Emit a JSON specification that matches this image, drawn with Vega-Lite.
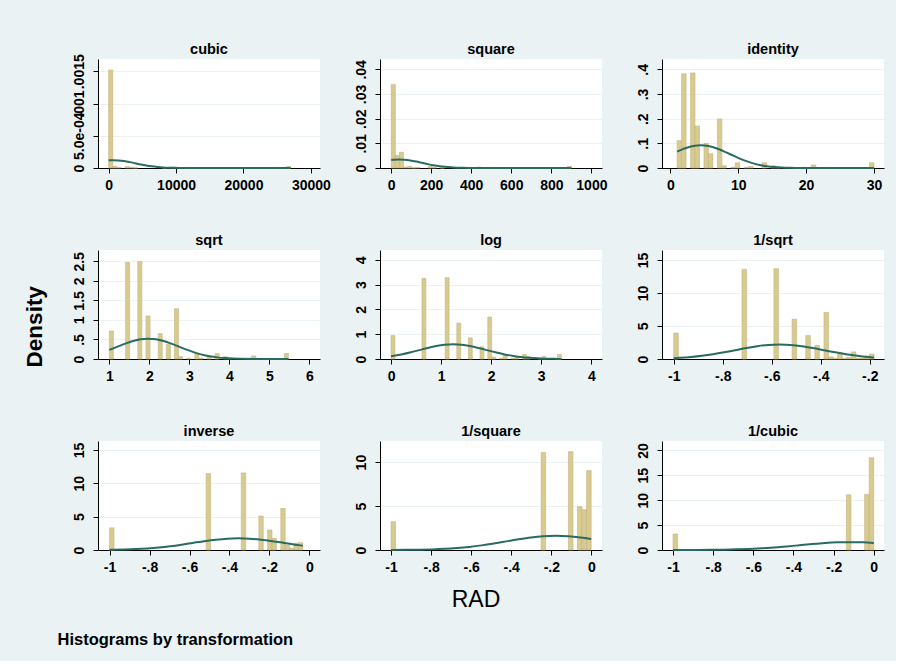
{
  "$schema": "https://vega.github.io/schema/vega-lite/v6.json",
  "background": "#eaf2f3",
  "padding": {"left": 23, "top": 41, "right": 12, "bottom": 12},
  "config": {
    "font": "Liberation Sans",
    "view": {"stroke": null, "fill": "white"},
    "axis": {
      "domainColor": "#000000", "domainWidth": 1, "tickColor": "#000000", "tickSize": 5, "tickWidth": 1,
      "labelFont": "Liberation Sans", "labelFontSize": 14, "labelFontWeight": "bold", "labelColor": "#000000",
      "labelOverlap": false, "labelFlush": false, "labelBound": false, "grid": false, "title": null
    },
    "axisX": {"labelPadding": 5},
    "axisY": {"grid": true, "gridColor": "#eaf2f3", "gridWidth": 1.2, "labelAngle": 270, "labelAlign": "center", "labelBaseline": "bottom", "labelPadding": 7},
    "title": {"font": "Liberation Sans", "fontSize": 14.5, "fontWeight": "bold", "color": "#000000", "offset": 2, "frame": "group"}
  },
  "datasets": {
    "cubic_bars": [
      {"x": 1, "x_end": 614.6, "y": 0.001519},
      {"x": 614.6, "x_end": 1228.2, "y": 0.0000261},
      {"x": 1228.2, "x_end": 1841.8, "y": 0.0000098},
      {"x": 2455.4, "x_end": 3069.1, "y": 0.0000228},
      {"x": 3069.1, "x_end": 3682.7, "y": 0.0000098},
      {"x": 3682.7, "x_end": 4296.3, "y": 0.0000033},
      {"x": 7977.9, "x_end": 8591.5, "y": 0.0000033},
      {"x": 9205.2, "x_end": 9818.8, "y": 0.000013},
      {"x": 26386.2, "x_end": 27000, "y": 0.0000228}
    ],
    "cubic_curve": [
      {"x": 1, "y": 0.0001188}, {"x": 640.6, "y": 0.000121}, {"x": 1465, "y": 0.0001173}, {"x": 2289, "y": 0.0001068},
      {"x": 3113, "y": 0.0000913}, {"x": 3937, "y": 0.0000734}, {"x": 4761, "y": 0.0000554}, {"x": 5586, "y": 0.0000393},
      {"x": 6410, "y": 0.0000262}, {"x": 7234, "y": 0.0000164}, {"x": 8058, "y": 0.0000096}, {"x": 8882, "y": 0.0000053},
      {"x": 9706, "y": 0.0000028}, {"x": 10531, "y": 0.0000013}, {"x": 12179, "y": 0.0000003}, {"x": 13827, "y": 0.00000004},
      {"x": 17124, "y": 0}, {"x": 27000, "y": 0}
    ],
    "square_bars": [
      {"x": 1, "x_end": 21.43, "y": 0.03382},
      {"x": 21.43, "x_end": 41.86, "y": 0.00509},
      {"x": 41.86, "x_end": 62.3, "y": 0.00641},
      {"x": 62.3, "x_end": 82.73, "y": 0.000392},
      {"x": 82.73, "x_end": 103.16, "y": 0.000685},
      {"x": 103.16, "x_end": 123.59, "y": 0.0000979},
      {"x": 123.59, "x_end": 144.02, "y": 0.000196},
      {"x": 184.89, "x_end": 205.32, "y": 0.000685},
      {"x": 205.32, "x_end": 225.75, "y": 0.000294},
      {"x": 246.18, "x_end": 266.61, "y": 0.0000979},
      {"x": 389.21, "x_end": 409.64, "y": 0.0000979},
      {"x": 430.07, "x_end": 450.5, "y": 0.000392},
      {"x": 879.57, "x_end": 900, "y": 0.000685}
    ],
    "square_curve": [
      {"x": 1, "y": 0.003264}, {"x": 9.93, "y": 0.003337}, {"x": 38.89, "y": 0.003443}, {"x": 67.86, "y": 0.003337},
      {"x": 96.82, "y": 0.003038}, {"x": 125.79, "y": 0.002599}, {"x": 154.75, "y": 0.002088}, {"x": 183.72, "y": 0.001576},
      {"x": 212.68, "y": 0.001118}, {"x": 241.65, "y": 0.000745}, {"x": 270.61, "y": 0.000466}, {"x": 299.6, "y": 0.000274},
      {"x": 328.54, "y": 0.000151}, {"x": 357.5, "y": 0.0000785}, {"x": 386.47, "y": 0.0000383}, {"x": 444.4, "y": 0.0000075},
      {"x": 502.3, "y": 0.0000012}, {"x": 618.2, "y": 0}, {"x": 900, "y": 0}
    ],
    "identity_bars": [
      {"x": 1, "x_end": 1.659, "y": 0.1108},
      {"x": 1.659, "x_end": 2.318, "y": 0.3823},
      {"x": 2.977, "x_end": 3.636, "y": 0.3854},
      {"x": 3.636, "x_end": 4.295, "y": 0.1699},
      {"x": 4.955, "x_end": 5.614, "y": 0.1001},
      {"x": 5.614, "x_end": 6.273, "y": 0.0577},
      {"x": 6.932, "x_end": 7.591, "y": 0.1988},
      {"x": 7.591, "x_end": 8.25, "y": 0.0091},
      {"x": 8.909, "x_end": 9.568, "y": 0.003},
      {"x": 9.568, "x_end": 10.227, "y": 0.0212},
      {"x": 10.886, "x_end": 11.545, "y": 0.003},
      {"x": 11.545, "x_end": 12.205, "y": 0.0061},
      {"x": 13.523, "x_end": 14.182, "y": 0.0212},
      {"x": 14.841, "x_end": 15.5, "y": 0.0091},
      {"x": 15.5, "x_end": 16.159, "y": 0.003},
      {"x": 19.455, "x_end": 20.114, "y": 0.003},
      {"x": 20.773, "x_end": 21.432, "y": 0.0121},
      {"x": 29.341, "x_end": 30, "y": 0.0212}
    ],
    "identity_curve": [
      {"x": 1, "y": 0.0666}, {"x": 2.316, "y": 0.0812}, {"x": 3.4, "y": 0.0892}, {"x": 4.484, "y": 0.092},
      {"x": 5.568, "y": 0.0892}, {"x": 6.652, "y": 0.0812}, {"x": 7.735, "y": 0.0694}, {"x": 8.819, "y": 0.0558},
      {"x": 9.903, "y": 0.0421}, {"x": 10.987, "y": 0.0299}, {"x": 12.07, "y": 0.0199}, {"x": 13.154, "y": 0.01245},
      {"x": 14.238, "y": 0.00732}, {"x": 15.322, "y": 0.00404}, {"x": 16.41, "y": 0.0021}, {"x": 17.489, "y": 0.00102},
      {"x": 19.657, "y": 0.0002}, {"x": 21.824, "y": 0.00003}, {"x": 26.16, "y": 0}, {"x": 30, "y": 0}
    ],
    "sqrt_bars": [
      {"x": 1, "x_end": 1.1018, "y": 0.7174},
      {"x": 1.407, "x_end": 1.5088, "y": 2.4765},
      {"x": 1.7123, "x_end": 1.814, "y": 2.4962},
      {"x": 1.9158, "x_end": 2.0176, "y": 1.1007},
      {"x": 2.2211, "x_end": 2.3229, "y": 0.6486},
      {"x": 2.4246, "x_end": 2.5264, "y": 0.3734},
      {"x": 2.6281, "x_end": 2.7298, "y": 1.2874},
      {"x": 2.7298, "x_end": 2.8316, "y": 0.059},
      {"x": 2.9333, "x_end": 3.0351, "y": 0.0197},
      {"x": 3.1369, "x_end": 3.2386, "y": 0.1376},
      {"x": 3.2386, "x_end": 3.3404, "y": 0.0197},
      {"x": 3.4421, "x_end": 3.5439, "y": 0.0393},
      {"x": 3.6456, "x_end": 3.7474, "y": 0.1376},
      {"x": 3.8491, "x_end": 3.9509, "y": 0.059},
      {"x": 3.9509, "x_end": 4.0527, "y": 0.0197},
      {"x": 4.4597, "x_end": 4.5614, "y": 0.0197},
      {"x": 4.5614, "x_end": 4.6632, "y": 0.0786},
      {"x": 5.3755, "x_end": 5.4772, "y": 0.1376}
    ],
    "sqrt_curve": [
      {"x": 1, "y": 0.2321}, {"x": 1.208, "y": 0.316}, {"x": 1.3995, "y": 0.3933}, {"x": 1.591, "y": 0.4598},
      {"x": 1.7825, "y": 0.505}, {"x": 1.974, "y": 0.521}, {"x": 2.1655, "y": 0.505}, {"x": 2.357, "y": 0.4598},
      {"x": 2.5485, "y": 0.3933}, {"x": 2.74, "y": 0.316}, {"x": 2.9315, "y": 0.2385}, {"x": 3.123, "y": 0.1691},
      {"x": 3.3145, "y": 0.1127}, {"x": 3.506, "y": 0.0705}, {"x": 3.6975, "y": 0.0415}, {"x": 3.889, "y": 0.0229},
      {"x": 4.0805, "y": 0.0119}, {"x": 4.272, "y": 0.0058}, {"x": 4.655, "y": 0.0011}, {"x": 5.038, "y": 0.0002},
      {"x": 5.477, "y": 0}
    ],
    "log_bars": [
      {"x": 0, "x_end": 0.0773, "y": 0.9444},
      {"x": 0.6184, "x_end": 0.6957, "y": 3.26},
      {"x": 1.0822, "x_end": 1.1595, "y": 3.2859},
      {"x": 1.3141, "x_end": 1.3914, "y": 1.4489},
      {"x": 1.546, "x_end": 1.6233, "y": 0.8538},
      {"x": 1.7779, "x_end": 1.8552, "y": 0.4916},
      {"x": 1.9325, "x_end": 2.0098, "y": 1.6947},
      {"x": 2.0098, "x_end": 2.0871, "y": 0.0776},
      {"x": 2.1644, "x_end": 2.2417, "y": 0.0259},
      {"x": 2.2417, "x_end": 2.319, "y": 0.1811},
      {"x": 2.3963, "x_end": 2.4736, "y": 0.0259},
      {"x": 2.4736, "x_end": 2.5509, "y": 0.0517},
      {"x": 2.6282, "x_end": 2.7055, "y": 0.1811},
      {"x": 2.7055, "x_end": 2.7828, "y": 0.1035},
      {"x": 2.9374, "x_end": 3.0147, "y": 0.0259},
      {"x": 3.0147, "x_end": 3.092, "y": 0.1035},
      {"x": 3.3239, "x_end": 3.4012, "y": 0.1811}
    ],
    "log_curve": [
      {"x": 0, "y": 0.1093}, {"x": 0.0593, "y": 0.128}, {"x": 0.2278, "y": 0.1922}, {"x": 0.3963, "y": 0.271},
      {"x": 0.5648, "y": 0.359}, {"x": 0.7333, "y": 0.4468}, {"x": 0.9018, "y": 0.5224}, {"x": 1.0703, "y": 0.5737},
      {"x": 1.2388, "y": 0.5919}, {"x": 1.4073, "y": 0.5737}, {"x": 1.5758, "y": 0.5224}, {"x": 1.7443, "y": 0.4468},
      {"x": 1.9128, "y": 0.359}, {"x": 2.0813, "y": 0.271}, {"x": 2.2498, "y": 0.1922}, {"x": 2.4183, "y": 0.128},
      {"x": 2.5868, "y": 0.0801}, {"x": 2.7553, "y": 0.0471}, {"x": 2.9238, "y": 0.026}, {"x": 3.0923, "y": 0.0135},
      {"x": 3.2608, "y": 0.0066}, {"x": 3.4012, "y": 0.0034}
    ],
    "invsqrt_bars": [
      {"x": -1, "x_end": -0.98142, "y": 3.9296},
      {"x": -0.72135, "x_end": -0.70277, "y": 13.565},
      {"x": -0.59131, "x_end": -0.57273, "y": 13.673},
      {"x": -0.51699, "x_end": -0.49842, "y": 6.0289},
      {"x": -0.46126, "x_end": -0.44268, "y": 3.5528},
      {"x": -0.42411, "x_end": -0.40553, "y": 2.0455},
      {"x": -0.38695, "x_end": -0.36838, "y": 7.0517},
      {"x": -0.36838, "x_end": -0.3498, "y": 0.323},
      {"x": -0.3498, "x_end": -0.33122, "y": 0.1077},
      {"x": -0.33122, "x_end": -0.31265, "y": 0.7536},
      {"x": -0.31265, "x_end": -0.29407, "y": 0.1077},
      {"x": -0.29407, "x_end": -0.27549, "y": 0.2153},
      {"x": -0.27549, "x_end": -0.25692, "y": 1.0766},
      {"x": -0.25692, "x_end": -0.23834, "y": 0.1077},
      {"x": -0.23834, "x_end": -0.21976, "y": 0.1077},
      {"x": -0.21976, "x_end": -0.20119, "y": 0.4306},
      {"x": -0.20119, "x_end": -0.18261, "y": 0.7536}
    ],
    "invsqrt_curve": [
      {"x": -1, "y": 0.1274}, {"x": -0.9749, "y": 0.1755}, {"x": -0.9297, "y": 0.2985}, {"x": -0.8845, "y": 0.4769},
      {"x": -0.8393, "y": 0.716}, {"x": -0.794, "y": 1.0097}, {"x": -0.7488, "y": 1.3376}, {"x": -0.7036, "y": 1.6646},
      {"x": -0.6584, "y": 1.9462}, {"x": -0.6131, "y": 2.1374}, {"x": -0.5679, "y": 2.2053}, {"x": -0.5227, "y": 2.1374},
      {"x": -0.4775, "y": 1.9462}, {"x": -0.4322, "y": 1.6646}, {"x": -0.387, "y": 1.3376}, {"x": -0.3418, "y": 1.0097},
      {"x": -0.2966, "y": 0.716}, {"x": -0.2513, "y": 0.4769}, {"x": -0.2061, "y": 0.2985}, {"x": -0.1826, "y": 0.2283}
    ],
    "inverse_bars": [
      {"x": -1, "x_end": -0.97803, "y": 3.3227},
      {"x": -0.51667, "x_end": -0.4947, "y": 11.47},
      {"x": -0.3409, "x_end": -0.31894, "y": 11.561},
      {"x": -0.25303, "x_end": -0.23106, "y": 5.0978},
      {"x": -0.20909, "x_end": -0.18712, "y": 3.0041},
      {"x": -0.18712, "x_end": -0.16515, "y": 1.7296},
      {"x": -0.14318, "x_end": -0.12121, "y": 6.2358},
      {"x": -0.12121, "x_end": -0.09924, "y": 0.7283},
      {"x": -0.09924, "x_end": -0.07727, "y": 0.2731},
      {"x": -0.07727, "x_end": -0.0553, "y": 1.0014},
      {"x": -0.0553, "x_end": -0.03333, "y": 1.0924}
    ],
    "inverse_curve": [
      {"x": -1, "y": 0.0318}, {"x": -0.9815, "y": 0.0399}, {"x": -0.9246, "y": 0.077}, {"x": -0.8676, "y": 0.1395},
      {"x": -0.8107, "y": 0.2371}, {"x": -0.7538, "y": 0.3789}, {"x": -0.6969, "y": 0.5688}, {"x": -0.6399, "y": 0.8022},
      {"x": -0.583, "y": 1.0627}, {"x": -0.5261, "y": 1.3226}, {"x": -0.4692, "y": 1.5462}, {"x": -0.4122, "y": 1.6982},
      {"x": -0.3553, "y": 1.7521}, {"x": -0.2984, "y": 1.6982}, {"x": -0.2415, "y": 1.5462}, {"x": -0.1845, "y": 1.3226},
      {"x": -0.1276, "y": 1.0627}, {"x": -0.0707, "y": 0.8022}, {"x": -0.0333, "y": 0.6446}
    ],
    "invsquare_bars": [
      {"x": -1, "x_end": -0.9773, "y": 3.2156},
      {"x": -0.25083, "x_end": -0.22813, "y": 11.1},
      {"x": -0.11463, "x_end": -0.09193, "y": 11.188},
      {"x": -0.06922, "x_end": -0.04652, "y": 4.9335},
      {"x": -0.04652, "x_end": -0.02382, "y": 4.5811},
      {"x": -0.02382, "x_end": -0.00111, "y": 9.03}
    ],
    "invsquare_curve": [
      {"x": -1, "y": 0.0063}, {"x": -0.9179, "y": 0.018}, {"x": -0.8563, "y": 0.0369}, {"x": -0.7946, "y": 0.0711},
      {"x": -0.733, "y": 0.1288}, {"x": -0.6713, "y": 0.2189}, {"x": -0.6096, "y": 0.3499}, {"x": -0.548, "y": 0.5252},
      {"x": -0.4863, "y": 0.7406}, {"x": -0.4247, "y": 0.9812}, {"x": -0.363, "y": 1.2211}, {"x": -0.3014, "y": 1.4276},
      {"x": -0.2397, "y": 1.5679}, {"x": -0.1781, "y": 1.6177}, {"x": -0.1164, "y": 1.5679}, {"x": -0.0547, "y": 1.4276},
      {"x": -0.0011, "y": 1.2506}
    ],
    "invcubic_bars": [
      {"x": -1, "x_end": -0.97727, "y": 3.2122},
      {"x": -0.13641, "x_end": -0.11368, "y": 11.089},
      {"x": -0.04551, "x_end": -0.02278, "y": 11.177},
      {"x": -0.02278, "x_end": -0.00004, "y": 18.525}
    ],
    "invcubic_curve": [
      {"x": -1, "y": 0.0035}, {"x": -0.8738, "y": 0.0176}, {"x": -0.8108, "y": 0.036}, {"x": -0.7477, "y": 0.0695},
      {"x": -0.6846, "y": 0.1258}, {"x": -0.6215, "y": 0.214}, {"x": -0.5584, "y": 0.3419}, {"x": -0.4953, "y": 0.5132},
      {"x": -0.4322, "y": 0.7238}, {"x": -0.3691, "y": 0.9589}, {"x": -0.306, "y": 1.1933}, {"x": -0.243, "y": 1.3951},
      {"x": -0.1799, "y": 1.5323}, {"x": -0.1168, "y": 1.5809}, {"x": -0.0537, "y": 1.5323}, {"x": 0, "y": 1.4205}
    ]
  },
  "title": {"text": "Histograms by transformation", "orient": "bottom", "anchor": "start", "frame": "bounds", "fontSize": 16.5, "fontWeight": "bold", "offset": 20, "dx": 34},
  "vconcat": [
    {
      "title": {"text": "Density", "orient": "left", "anchor": "middle", "frame": "bounds", "fontSize": 22.5, "fontWeight": "bold", "offset": 26},
      "vconcat": [
        {
          "title": {"text": "RAD", "orient": "bottom", "anchor": "middle", "frame": "bounds", "fontSize": 23, "fontWeight": "normal", "offset": 15, "dx": -2},
          "columns": 3,
          "spacing": {"row": 82, "column": 60},
          "bounds": "flush",
          "concat": [
            {
              "title": {"text": "cubic", "offset": -4}, "width": 222, "height": 109,
              "encoding": {
                "x": {"field": "x", "type": "quantitative", "scale": {"domain": [-1580, 31350], "nice": false, "zero": false},
                      "axis": {"values": [0, 10000, 20000, 30000], "labelExpr": "toString(datum.value)"}},
                "y": {"field": "y", "type": "quantitative", "scale": {"domain": [0, 0.00169], "nice": false},
                      "axis": {"values": [0, 0.0005, 0.001, 0.0015], "labelExpr": "datum.value > 0.0004 && datum.value < 0.0006 ? '5.0e-04' : replace(toString(datum.value), /^(-?)0\\./, '$1.')"}}
              },
              "layer": [
                {"data": {"name": "cubic_bars"}, "mark": {"type": "rect", "fill": "#d8cb91", "stroke": "#c3b47c", "strokeWidth": 0.6}, "encoding": {"x2": {"field": "x_end"}, "y2": {"datum": 0}}},
                {"data": {"name": "cubic_curve"}, "mark": {"type": "line", "color": "#2a6b61", "strokeWidth": 2, "interpolate": "monotone"}, "encoding": {}}
              ]
            },
            {
              "title": "square", "width": 222, "height": 109,
              "encoding": {
                "x": {"field": "x", "type": "quantitative", "scale": {"domain": [-55, 1053], "nice": false, "zero": false},
                      "axis": {"values": [0, 200, 400, 600, 800, 1000], "labelExpr": "toString(datum.value)"}},
                "y": {"field": "y", "type": "quantitative", "scale": {"domain": [0, 0.0442], "nice": false},
                      "axis": {"values": [0, 0.01, 0.02, 0.03, 0.04], "labelExpr": "replace(toString(datum.value), /^(-?)0\\./, '$1.')"}}
              },
              "layer": [
                {"data": {"name": "square_bars"}, "mark": {"type": "rect", "fill": "#d8cb91", "stroke": "#c3b47c", "strokeWidth": 0.6}, "encoding": {"x2": {"field": "x_end"}, "y2": {"datum": 0}}},
                {"data": {"name": "square_curve"}, "mark": {"type": "line", "color": "#2a6b61", "strokeWidth": 2, "interpolate": "monotone"}, "encoding": {}}
              ]
            },
            {
              "title": "identity", "width": 222, "height": 109,
              "encoding": {
                "x": {"field": "x", "type": "quantitative", "scale": {"domain": [-1.23, 31.48], "nice": false, "zero": false},
                      "axis": {"values": [0, 10, 20, 30], "labelExpr": "toString(datum.value)"}},
                "y": {"field": "y", "type": "quantitative", "scale": {"domain": [0, 0.442], "nice": false},
                      "axis": {"values": [0, 0.1, 0.2, 0.3, 0.4], "labelExpr": "replace(toString(datum.value), /^(-?)0\\./, '$1.')"}}
              },
              "layer": [
                {"data": {"name": "identity_bars"}, "mark": {"type": "rect", "fill": "#d8cb91", "stroke": "#c3b47c", "strokeWidth": 0.6}, "encoding": {"x2": {"field": "x_end"}, "y2": {"datum": 0}}},
                {"data": {"name": "identity_curve"}, "mark": {"type": "line", "color": "#2a6b61", "strokeWidth": 2, "interpolate": "monotone"}, "encoding": {}}
              ]
            },
            {
              "title": "sqrt", "width": 222, "height": 109,
              "encoding": {
                "x": {"field": "x", "type": "quantitative", "scale": {"domain": [0.717, 6.266], "nice": false, "zero": false},
                      "axis": {"values": [1, 2, 3, 4, 5, 6], "labelExpr": "toString(datum.value)"}},
                "y": {"field": "y", "type": "quantitative", "scale": {"domain": [0, 2.79], "nice": false},
                      "axis": {"values": [0, 0.5, 1, 1.5, 2, 2.5], "labelExpr": "replace(toString(datum.value), /^(-?)0\\./, '$1.')"}}
              },
              "layer": [
                {"data": {"name": "sqrt_bars"}, "mark": {"type": "rect", "fill": "#d8cb91", "stroke": "#c3b47c", "strokeWidth": 0.6}, "encoding": {"x2": {"field": "x_end"}, "y2": {"datum": 0}}},
                {"data": {"name": "sqrt_curve"}, "mark": {"type": "line", "color": "#2a6b61", "strokeWidth": 2, "interpolate": "monotone"}, "encoding": {}}
              ]
            },
            {
              "title": "log", "width": 222, "height": 109,
              "encoding": {
                "x": {"field": "x", "type": "quantitative", "scale": {"domain": [-0.22, 4.213], "nice": false, "zero": false},
                      "axis": {"values": [0, 1, 2, 3, 4], "labelExpr": "toString(datum.value)"}},
                "y": {"field": "y", "type": "quantitative", "scale": {"domain": [0, 4.4], "nice": false},
                      "axis": {"values": [0, 1, 2, 3, 4]}}
              },
              "layer": [
                {"data": {"name": "log_bars"}, "mark": {"type": "rect", "fill": "#d8cb91", "stroke": "#c3b47c", "strokeWidth": 0.6}, "encoding": {"x2": {"field": "x_end"}, "y2": {"datum": 0}}},
                {"data": {"name": "log_curve"}, "mark": {"type": "line", "color": "#2a6b61", "strokeWidth": 2, "interpolate": "monotone"}, "encoding": {}}
              ]
            },
            {
              "title": "1/sqrt", "width": 222, "height": 109,
              "encoding": {
                "x": {"field": "x", "type": "quantitative", "scale": {"domain": [-1.048, -0.142], "nice": false, "zero": false},
                      "axis": {"values": [-1, -0.8, -0.6, -0.4, -0.2], "labelExpr": "replace(toString(datum.value), /^(-?)0\\./, '$1.')"}},
                "y": {"field": "y", "type": "quantitative", "scale": {"domain": [0, 16.5], "nice": false},
                      "axis": {"values": [0, 5, 10, 15]}}
              },
              "layer": [
                {"data": {"name": "invsqrt_bars"}, "mark": {"type": "rect", "fill": "#d8cb91", "stroke": "#c3b47c", "strokeWidth": 0.6}, "encoding": {"x2": {"field": "x_end"}, "y2": {"datum": 0}}},
                {"data": {"name": "invsqrt_curve"}, "mark": {"type": "line", "color": "#2a6b61", "strokeWidth": 2, "interpolate": "monotone"}, "encoding": {}}
              ]
            },
            {
              "title": "inverse", "width": 222, "height": 109,
              "encoding": {
                "x": {"field": "x", "type": "quantitative", "scale": {"domain": [-1.058, 0.053], "nice": false, "zero": false},
                      "axis": {"values": [-1, -0.8, -0.6, -0.4, -0.2, 0], "labelExpr": "replace(toString(datum.value), /^(-?)0\\./, '$1.')"}},
                "y": {"field": "y", "type": "quantitative", "scale": {"domain": [0, 16.35], "nice": false},
                      "axis": {"values": [0, 5, 10, 15]}}
              },
              "layer": [
                {"data": {"name": "inverse_bars"}, "mark": {"type": "rect", "fill": "#d8cb91", "stroke": "#c3b47c", "strokeWidth": 0.6}, "encoding": {"x2": {"field": "x_end"}, "y2": {"datum": 0}}},
                {"data": {"name": "inverse_curve"}, "mark": {"type": "line", "color": "#2a6b61", "strokeWidth": 2, "interpolate": "monotone"}, "encoding": {}}
              ]
            },
            {
              "title": "1/square", "width": 222, "height": 109,
              "encoding": {
                "x": {"field": "x", "type": "quantitative", "scale": {"domain": [-1.055, 0.053], "nice": false, "zero": false},
                      "axis": {"values": [-1, -0.8, -0.6, -0.4, -0.2, 0], "labelExpr": "replace(toString(datum.value), /^(-?)0\\./, '$1.')"}},
                "y": {"field": "y", "type": "quantitative", "scale": {"domain": [0, 12.4], "nice": false},
                      "axis": {"values": [0, 5, 10]}}
              },
              "layer": [
                {"data": {"name": "invsquare_bars"}, "mark": {"type": "rect", "fill": "#d8cb91", "stroke": "#c3b47c", "strokeWidth": 0.6}, "encoding": {"x2": {"field": "x_end"}, "y2": {"datum": 0}}},
                {"data": {"name": "invsquare_curve"}, "mark": {"type": "line", "color": "#2a6b61", "strokeWidth": 2, "interpolate": "monotone"}, "encoding": {}}
              ]
            },
            {
              "title": "1/cubic", "width": 222, "height": 109,
              "encoding": {
                "x": {"field": "x", "type": "quantitative", "scale": {"domain": [-1.055, 0.051], "nice": false, "zero": false},
                      "axis": {"values": [-1, -0.8, -0.6, -0.4, -0.2, 0], "labelExpr": "replace(toString(datum.value), /^(-?)0\\./, '$1.')"}},
                "y": {"field": "y", "type": "quantitative", "scale": {"domain": [0, 21.9], "nice": false},
                      "axis": {"values": [0, 5, 10, 15, 20]}}
              },
              "layer": [
                {"data": {"name": "invcubic_bars"}, "mark": {"type": "rect", "fill": "#d8cb91", "stroke": "#c3b47c", "strokeWidth": 0.6}, "encoding": {"x2": {"field": "x_end"}, "y2": {"datum": 0}}},
                {"data": {"name": "invcubic_curve"}, "mark": {"type": "line", "color": "#2a6b61", "strokeWidth": 2, "interpolate": "monotone"}, "encoding": {}}
              ]
            }
          ]
        }
      ]
    }
  ]
}
